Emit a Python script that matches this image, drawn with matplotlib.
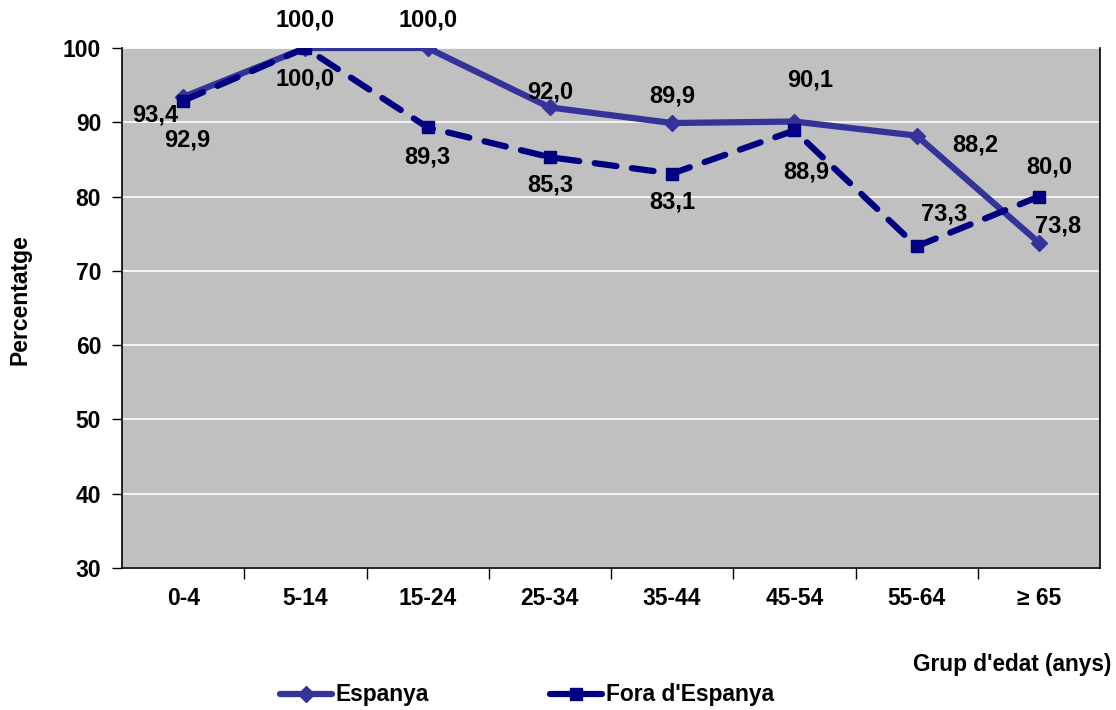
import matplotlib.pyplot as plt
from matplotlib.lines import Line2D

plt.rcParams['font.family'] = ['Liberation Sans', 'DejaVu Sans']
plt.rcParams['font.weight'] = 'bold'

grups = ['0-4', '5-14', '15-24', '25-34', '35-44', '45-54', '55-64', '≥ 65']
espanya = [93.4, 100.0, 100.0, 92.0, 89.9, 90.1, 88.2, 73.8]
fora = [92.9, 100.0, 89.3, 85.3, 83.1, 88.9, 73.3, 80.0]

# label offsets in pixels (dx, dy), y up
off_esp = [(-28, -18), (0, 28), (0, 28), (0, 15), (0, 27), (16, 42), (59, -9), (19, 17)]
off_fora = [(4, -39), (0, -31), (0, -30), (0, -28), (0, -28), (12, -42), (28, 32), (10, 30)]

c_esp = '#333399'
c_fora = '#000080'

fig = plt.figure(figsize=(11.16, 7.10), dpi=100)
ax = fig.add_axes([122 / 1116, 1 - 568 / 710, 978 / 1116, 520 / 710])
ax.set_facecolor('#C0C0C0')

x = list(range(len(grups)))
ax.plot(x, espanya, color=c_esp, lw=4.5, marker='D', ms=8, zorder=3)
ax.plot(x, fora, color=c_fora, lw=4.5, ls=(0, (3.5, 2.5)), marker='s', ms=8,
        zorder=4, dash_capstyle='round')

def fmt(v):
    return f'{v:.1f}'.replace('.', ',')

for i in x:
    ax.annotate(fmt(espanya[i]), (i, espanya[i]), xytext=off_esp[i],
                textcoords='offset pixels', ha='center', va='center',
                fontsize=17, fontweight='bold', zorder=5, annotation_clip=False)
    ax.annotate(fmt(fora[i]), (i, fora[i]), xytext=off_fora[i],
                textcoords='offset pixels', ha='center', va='center',
                fontsize=17, fontweight='bold', zorder=5, annotation_clip=False)

ax.set_xlim(-0.5, len(grups) - 0.5)
ax.set_ylim(30, 100)
ax.set_yticks(range(30, 101, 10))
ax.yaxis.grid(True, color='white', lw=1.2)
ax.set_axisbelow(True)

ax.set_xticks(x)
ax.set_xticklabels(grups)
ax.set_xticks([i + 0.5 for i in x[:-1]], minor=True)
ax.tick_params(axis='x', which='major', length=0, pad=14, labelsize=16.5)
ax.tick_params(axis='x', which='minor', length=8, width=1, direction='out')
ax.tick_params(axis='y', length=7, width=1, direction='out', pad=8, labelsize=16.5)

for s in ['left', 'bottom', 'right']:
    ax.spines[s].set_color('black')
    ax.spines[s].set_linewidth(1.2)
ax.spines['top'].set_visible(False)

fig.text(20 / 1116, 1 - 300 / 710, 'Percentatge', rotation=90, ha='center',
         va='center', fontsize=16.5, fontweight='bold')
fig.text(1111 / 1116, 1 - 665 / 710, "Grup d'edat (anys)", ha='right',
         va='center', fontsize=16.3, fontweight='bold')

handles = [Line2D([], [], color=c_esp, lw=4.5, marker='D', ms=8, solid_capstyle='round'),
           Line2D([], [], color=c_fora, lw=4.5, marker='s', ms=8, solid_capstyle='round')]
fig.legend(handles, ['Espanya', "Fora d'Espanya"], loc='center',
           bbox_to_anchor=(527 / 1116, 1 - 695 / 710), ncol=2, frameon=False,
           handlelength=2.3, handletextpad=0.15, columnspacing=5.3,
           borderpad=0.0, prop={'weight': 'bold', 'size': 16.4})

fig.savefig('out.png', dpi=100)
